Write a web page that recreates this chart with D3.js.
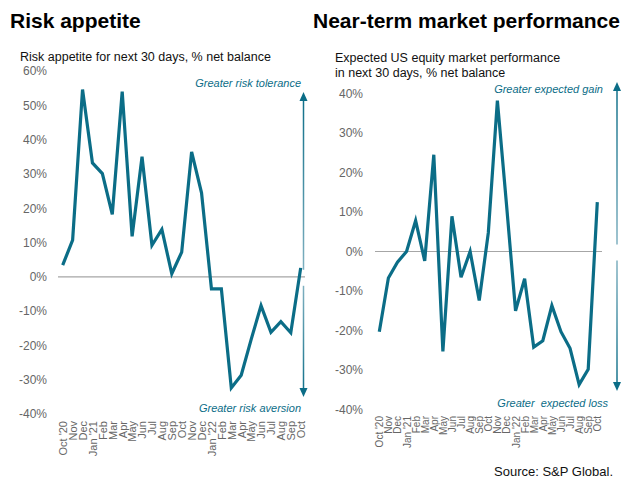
<!DOCTYPE html>
<html><head><meta charset="utf-8">
<script src="https://cdn.jsdelivr.net/npm/d3@7"></script>
<style>body{margin:0;background:#fff}svg{display:block}text{font-family:"Liberation Sans",Arial,sans-serif}</style>
</head><body>
<script>
const months = ["Oct '20","Nov","Dec","Jan '21","Feb","Mar","Apr","May","Jun","Jul","Aug","Sep","Oct","Nov","Dec","Jan '22","Feb","Mar","Apr","May","Jun","Jul","Aug","Sep","Oct"];
const keys = months.map((m,i)=>i);
const riskAppetite = [3.4,10.7,54.6,33.2,30.1,18.2,54.0,11.8,35.0,9.2,13.8,0.9,7.2,36.4,24.5,-3.5,-3.5,-32.4,-28.7,-18.3,-8.4,-16.2,-13.1,-16.3,2.6];
const marketPerf = [-20.3,-6.7,-2.7,0,7.8,-2.4,24.5,-25.3,8.9,-6.5,0,-12.4,4.7,38.2,12,-15,-6.9,-24.2,-22.6,-13.7,-20.3,-24.5,-33.7,-29.8,12.5];
const leftTicks = [60,50,40,30,20,10,0,-10,-20,-30,-40];
const rightTicks = [40,30,20,10,0,-10,-20,-30,-40];

const W=622,H=479, teal="#0b6d87";
const svg = d3.select("body").append("svg").attr("width",W).attr("height",H);
const defs = svg.append("defs");
function grad(id, y1, y2){
  const g = defs.append("linearGradient").attr("id",id).attr("gradientUnits","userSpaceOnUse")
    .attr("x1",0).attr("x2",0).attr("y1",y1).attr("y2",y2);
  g.append("stop").attr("offset",0).attr("stop-color",teal);
  g.append("stop").attr("offset",1).attr("stop-color","#7fb0c0");
}
function arrow(x, yStart, yTip, id){
  grad(id, yTip, yStart);
  const dir = yTip < yStart ? 1 : -1;
  svg.append("line").attr("x1",x).attr("x2",x).attr("y1",yStart).attr("y2",yTip+dir*6)
    .attr("stroke",`url(#${id})`).attr("stroke-width",1.5);
  svg.append("path").attr("d",`M${x},${yTip} L${x-4},${yTip+dir*9} L${x+4},${yTip+dir*9} Z`).attr("fill",teal);
}

function panel(o){
  svg.append("text").attr("x",o.tx).attr("y",28).attr("font-size",21).attr("font-weight","bold").attr("fill","#000").text(o.title);
  o.sub.forEach((s,i)=>svg.append("text").attr("x",o.sx).attr("y",o.sy+i*14.5).attr("font-size",12.5).attr("fill","#111").text(s));
  const y = d3.scaleLinear().domain(o.ydom).range(o.yr);
  const x = d3.scalePoint().domain(keys).range(o.xr);
  const ya = svg.append("g").attr("transform",`translate(${o.ylx},0)`)
    .call(d3.axisLeft(y).tickValues(o.ticks).tickSize(0).tickPadding(0).tickFormat(d=>d+"%"));
  ya.select(".domain").remove();
  ya.selectAll("text").attr("font-size",12).attr("fill","#666").attr("font-family","Liberation Sans, Arial, sans-serif");
  svg.append("line").attr("x1",o.zx[0]).attr("x2",o.zx[1]).attr("y1",y(0)).attr("y2",y(0)).attr("stroke","#a6a6a6").attr("stroke-width",1.2);
  const xa = svg.append("g").attr("transform",`translate(0,${o.xly})`)
    .call(d3.axisBottom(x).tickSize(0).tickPadding(0).tickFormat(i=>months[i]));
  xa.select(".domain").remove();
  xa.selectAll("text").attr("font-size",o.xfs).attr("fill","#666").attr("font-family","Liberation Sans, Arial, sans-serif")
    .attr("text-anchor","end").attr("dy","0.35em").attr("transform","rotate(-90)");
  svg.append("path").datum(o.data).attr("fill","none").attr("stroke",teal).attr("stroke-width",3.2)
    .attr("d",d3.line().x((d,i)=>x(i)).y(d=>y(d)));
  arrow(o.ax, y(0)-7, o.upTip, o.id+"u");
  arrow(o.ax, y(0)+9, o.dnTip, o.id+"d");
  svg.append("text").attr("x",o.annX).attr("y",o.up[1]).attr("text-anchor","end").attr("font-size",11).attr("font-style","italic").attr("fill",teal).text(o.up[0]);
  svg.append("text").attr("x",o.annX2).attr("y",o.dn[1]).attr("text-anchor","end").attr("font-size",11).attr("font-style","italic").attr("fill",teal).attr("xml:space","preserve").text(o.dn[0]);
}

panel({title:"Risk appetite", tx:10, sub:["Risk appetite for next 30 days, % net balance"], sx:20, sy:61,
  ydom:[-40,60], yr:[414,71], xr:[62.7,300.7], ticks:leftTicks, ylx:47, zx:[58,305], xly:421, xfs:11,
  data:riskAppetite, ax:303.5, upTip:92, dnTip:397, id:"l",
  annX:301, annX2:301, up:["Greater risk tolerance",87], dn:["Greater risk aversion",412]});

panel({title:"Near-term market performance", tx:313, sub:["Expected US equity market performance","in next 30 days, % net balance"], sx:335, sy:62,
  ydom:[-40,40], yr:[409.5,93.5], xr:[379.3,597.3], ticks:rightTicks, ylx:363, zx:[375,602], xly:416, xfs:10,
  data:marketPerf, ax:617, upTip:82, dnTip:391, id:"r",
  annX:603, annX2:608, up:["Greater expected gain",93], dn:["Greater  expected loss",407]});

svg.append("text").attr("x",613).attr("y",476).attr("text-anchor","end").attr("font-size",13).attr("fill","#111").text("Source: S&P Global.");
</script>
</body></html>
